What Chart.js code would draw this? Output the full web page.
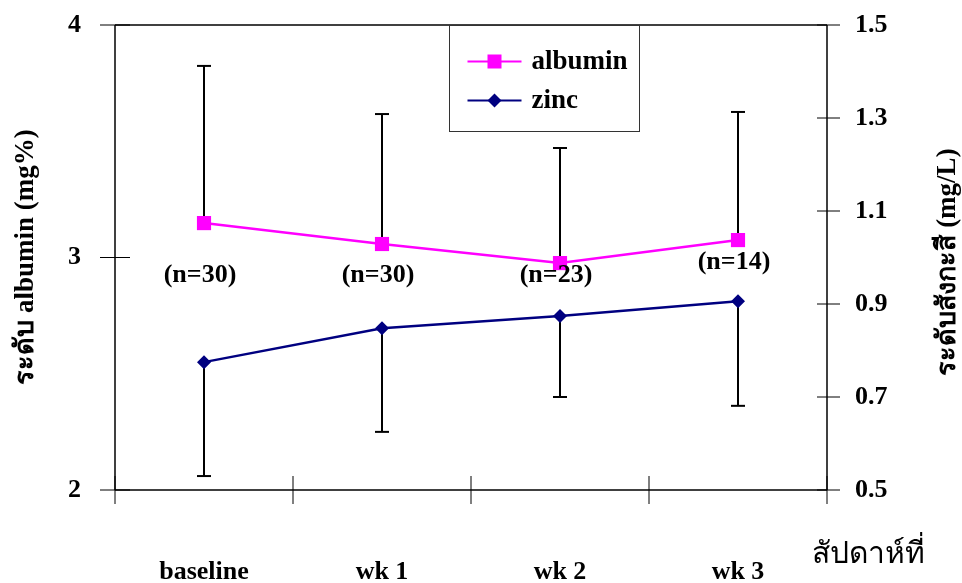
<!DOCTYPE html>
<html><head><meta charset="utf-8">
<script src="https://cdn.jsdelivr.net/npm/chart.js@4/dist/chart.umd.min.js"></script>
<style>html,body{margin:0;padding:0;background:#fff}</style>
</head><body>
<canvas id="c" width="962" height="583"></canvas>
<script>
const categories = ['baseline', 'wk 1', 'wk 2', 'wk 3'];
const albuminMean = [3.148, 3.058, 2.976, 3.075];
const albuminSD = [0.676, 0.559, 0.495, 0.551];
const zincMean = [0.775, 0.848, 0.874, 0.906];
const zincSD = [0.245, 0.223, 0.174, 0.225];
const nLabels = ['(n=30)', '(n=30)', '(n=23)', '(n=14)'];
const nLabelY = [2.925, 2.925, 2.925, 2.981];
const leftTicks = [2, 3, 4];
const rightTicks = [0.5, 0.7, 0.9, 1.1, 1.3, 1.5];
const seriesNames = ['albumin', 'zinc'];
const leftTitle = 'ระดับ albumin (mg%)';
const rightTitle = 'ระดับสังกะสี (mg/L)';
const xTitle = 'สัปดาห์ที่';

const F = '"Liberation Serif", "Times New Roman", "Noto Sans", "DejaVu Sans", serif';
const ALB = '#FF00FF', ZN = '#000080';

const decor = {
  id: 'decor',
  beforeDatasetsDraw(chart) {
    const {ctx, chartArea: a, scales: {x, y, y1}} = chart;
    const seg = (x0, y0, x1, y1_) => { ctx.beginPath(); ctx.moveTo(x0, y0); ctx.lineTo(x1, y1_); ctx.stroke(); };
    ctx.save();
    ctx.strokeStyle = '#000';
    ctx.lineWidth = 1.5;
    seg(a.left, a.top, a.right, a.top);
    seg(a.left, a.top, a.left, a.bottom);
    seg(a.right, a.top, a.right, a.bottom);
    seg(a.left, a.bottom, a.right, a.bottom);
    ctx.lineWidth = 1;
    leftTicks.forEach(v => { const py = y.getPixelForValue(v); seg(a.left - 15, py, a.left + 15, py); });
    rightTicks.forEach(v => { const py = y1.getPixelForValue(v); seg(a.right - 10, py, a.right + 13, py); });
    for (let i = 0; i <= categories.length; i++) {
      const px = x.getPixelForValue(i - 0.5);
      seg(px, a.bottom - 14, px, a.bottom + 14);
    }
    // error bars
    ctx.lineWidth = 2;
    categories.forEach((c, i) => {
      const px = x.getPixelForValue(i);
      const ya = y.getPixelForValue(albuminMean[i]), yat = y.getPixelForValue(albuminMean[i] + albuminSD[i]);
      seg(px, ya, px, yat); seg(px - 7, yat, px + 7, yat);
      const yz = y1.getPixelForValue(zincMean[i]), yzb = y1.getPixelForValue(zincMean[i] - zincSD[i]);
      seg(px, yz, px, yzb); seg(px - 7, yzb, px + 7, yzb);
    });
    ctx.restore();
  },
  afterDraw(chart) {
    const {ctx, chartArea: a, scales: {x, y}} = chart;
    ctx.save();
    ctx.fillStyle = '#000';
    // n labels
    ctx.font = 'bold 26px ' + F;
    ctx.textAlign = 'center'; ctx.textBaseline = 'middle';
    nLabels.forEach((t, i) => ctx.fillText(t, x.getPixelForValue(i) - 4, y.getPixelForValue(nLabelY[i])));
    // axis titles
    ctx.font = 'bold 27px ' + F;
    ctx.save(); ctx.translate(26, 257); ctx.rotate(-Math.PI / 2);
    ctx.fillText(leftTitle, 0, 0); ctx.restore();
    ctx.save(); ctx.translate(948, 262); ctx.rotate(-Math.PI / 2);
    ctx.fillText(rightTitle, 0, 0); ctx.restore();
    ctx.font = '30px ' + F;
    ctx.textAlign = 'left';
    ctx.fillText(xTitle, 812, 555);
    // legend
    const bx = 449.5, by = a.top + 0.5, bw = 190, bh = 106;
    ctx.fillStyle = '#fff'; ctx.fillRect(bx, by, bw, bh);
    ctx.strokeStyle = '#333'; ctx.lineWidth = 1; ctx.strokeRect(bx, by, bw, bh);
    const rows = [{y: by + 36, c: ALB, s: 'rect'}, {y: by + 75, c: ZN, s: 'diamond'}];
    rows.forEach((r, i) => {
      ctx.strokeStyle = r.c; ctx.lineWidth = 2;
      ctx.beginPath(); ctx.moveTo(bx + 18, r.y); ctx.lineTo(bx + 72, r.y); ctx.stroke();
      ctx.fillStyle = r.c;
      const cx = bx + 45;
      if (r.s === 'rect') ctx.fillRect(cx - 7, r.y - 7, 14, 14);
      else { ctx.beginPath(); ctx.moveTo(cx, r.y - 7); ctx.lineTo(cx + 7, r.y); ctx.lineTo(cx, r.y + 7); ctx.lineTo(cx - 7, r.y); ctx.closePath(); ctx.fill(); }
      ctx.fillStyle = '#000'; ctx.font = 'bold 27px ' + F; ctx.textAlign = 'left'; ctx.textBaseline = 'middle';
      ctx.fillText(seriesNames[i], bx + 82, r.y + 1);
    });
    ctx.restore();
  }
};

const zeroPad = s => { s.paddingTop = 0; s.paddingBottom = 0; s.paddingLeft = 0; s.paddingRight = 0; };
const tickFont = {family: F, size: 26, weight: 'bold'};
new Chart(document.getElementById('c'), {
  type: 'line',
  data: {
    labels: categories,
    datasets: [
      {label: seriesNames[0], data: albuminMean, yAxisID: 'y', borderColor: ALB, backgroundColor: ALB, borderWidth: 2.5, pointStyle: 'rect', pointRadius: 10, pointBorderWidth: 0, tension: 0},
      {label: seriesNames[1], data: zincMean, yAxisID: 'y1', borderColor: ZN, backgroundColor: ZN, borderWidth: 2.5, pointStyle: 'rectRot', pointRadius: 7, pointBorderWidth: 0, tension: 0}
    ]
  },
  options: {
    responsive: false, animation: false, devicePixelRatio: 1,
    layout: {padding: {top: 25, left: 0, right: 0, bottom: 0}},
    plugins: {legend: {display: false}, tooltip: {enabled: false}},
    scales: {
      x: {type: 'category', offset: true, grid: {display: false, drawTicks: false}, border: {display: false},
          ticks: {font: tickFont, color: '#000', padding: 67, maxRotation: 0}, afterFit(s) { s.height = 93; zeroPad(s); }},
      y: {position: 'left', min: 2, max: 4, grid: {display: false, drawTicks: false}, border: {display: false},
          ticks: {font: tickFont, color: '#000', padding: 34}, afterBuildTicks(s) { s.ticks = leftTicks.map(v => ({value: v})); },
          afterFit(s) { s.width = 115; zeroPad(s); }},
      y1: {position: 'right', min: 0.5, max: 1.5, grid: {display: false, drawTicks: false}, border: {display: false},
          ticks: {font: tickFont, color: '#000', padding: 28, callback: v => Number(v).toFixed(1)},
          afterBuildTicks(s) { s.ticks = rightTicks.map(v => ({value: v})); },
          afterFit(s) { s.width = 135; zeroPad(s); }}
    }
  },
  plugins: [decor]
});
</script>
</body></html>
